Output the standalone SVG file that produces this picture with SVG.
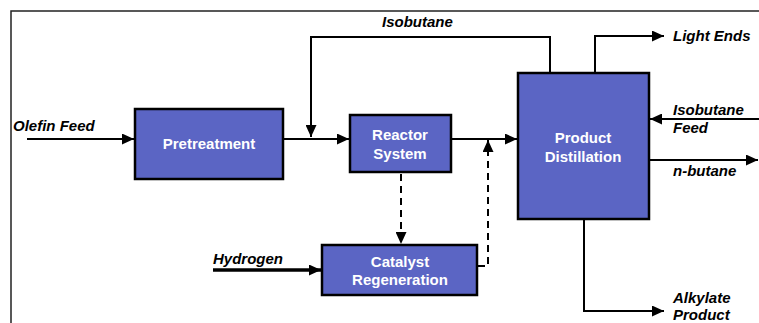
<svg xmlns="http://www.w3.org/2000/svg" width="759" height="323" viewBox="0 0 759 323">
<style>
.box{fill:#5B65C4;stroke:#000;stroke-width:2.5}
.bt{font-family:"Liberation Sans",Arial,sans-serif;font-weight:bold;font-size:15px;fill:#fff;text-anchor:middle}
.lb{font-family:"Liberation Sans",Arial,sans-serif;font-weight:bold;font-style:italic;font-size:15px;fill:#000}
.ln{fill:none;stroke:#000;stroke-width:2}
.dash{fill:none;stroke:#000;stroke-width:2;stroke-dasharray:7,5}
</style>
<defs>
<marker id="ah" viewBox="0 0 12 11" refX="12" refY="5.5" markerWidth="12" markerHeight="11" markerUnits="userSpaceOnUse" orient="auto">
<path d="M0,0 L12,5.5 L0,11 Z" fill="#000"/>
</marker>
</defs>
<rect width="759" height="323" fill="#fff"/>
<path d="M11,323 V11 H759" fill="none" stroke="#222" stroke-width="1.5"/>
<g id="connectors">
<line class="ln" x1="27" y1="139" x2="134" y2="139" marker-end="url(#ah)"/>
<line class="ln" x1="284" y1="139" x2="349" y2="139" marker-end="url(#ah)"/>
<path class="ln" d="M550,73 V37 H311 V137" marker-end="url(#ah)"/>
<line class="ln" x1="452" y1="139" x2="517" y2="139" marker-end="url(#ah)"/>
<path class="ln" d="M595,73 V36 H664" marker-end="url(#ah)"/>
<line class="ln" x1="759" y1="119" x2="650" y2="119" marker-end="url(#ah)"/>
<line class="ln" x1="650" y1="160" x2="758" y2="160" marker-end="url(#ah)"/>
<path class="ln" d="M584,220 V311 H664" marker-end="url(#ah)"/>
<line class="dash" x1="401" y1="174" x2="401" y2="244" marker-end="url(#ah)"/>
<path class="dash" d="M478,266 H488 V140" marker-end="url(#ah)"/>
<line x1="213" y1="270" x2="321" y2="270" stroke="#000" stroke-width="3.5" marker-end="url(#ah)"/>
</g>
<g id="pretreatment">
<rect class="box" x="135" y="109" width="148" height="70"/>
<text class="bt" x="209" y="149">Pretreatment</text>
</g>
<g id="reactor">
<rect class="box" x="350" y="115" width="101" height="57"/>
<text class="bt" x="400" y="140">Reactor</text>
<text class="bt" x="400" y="159">System</text>
</g>
<g id="distillation">
<rect class="box" x="518" y="73" width="131" height="146"/>
<text class="bt" x="583" y="143">Product</text>
<text class="bt" x="583" y="162">Distillation</text>
</g>
<g id="regeneration">
<rect class="box" x="322" y="245" width="155" height="50"/>
<text class="bt" x="400" y="267">Catalyst</text>
<text class="bt" x="400" y="285">Regeneration</text>
</g>
<g id="labels">
<text class="lb" x="13" y="131">Olefin Feed</text>
<text class="lb" x="382" y="27">Isobutane</text>
<text class="lb" x="673" y="41">Light Ends</text>
<text class="lb" x="673" y="115">Isobutane</text>
<text class="lb" x="673" y="133">Feed</text>
<text class="lb" x="673" y="176">n-butane</text>
<text class="lb" x="213" y="264">Hydrogen</text>
<text class="lb" x="673" y="303">Alkylate</text>
<text class="lb" x="673" y="320">Product</text>
</g>
</svg>
